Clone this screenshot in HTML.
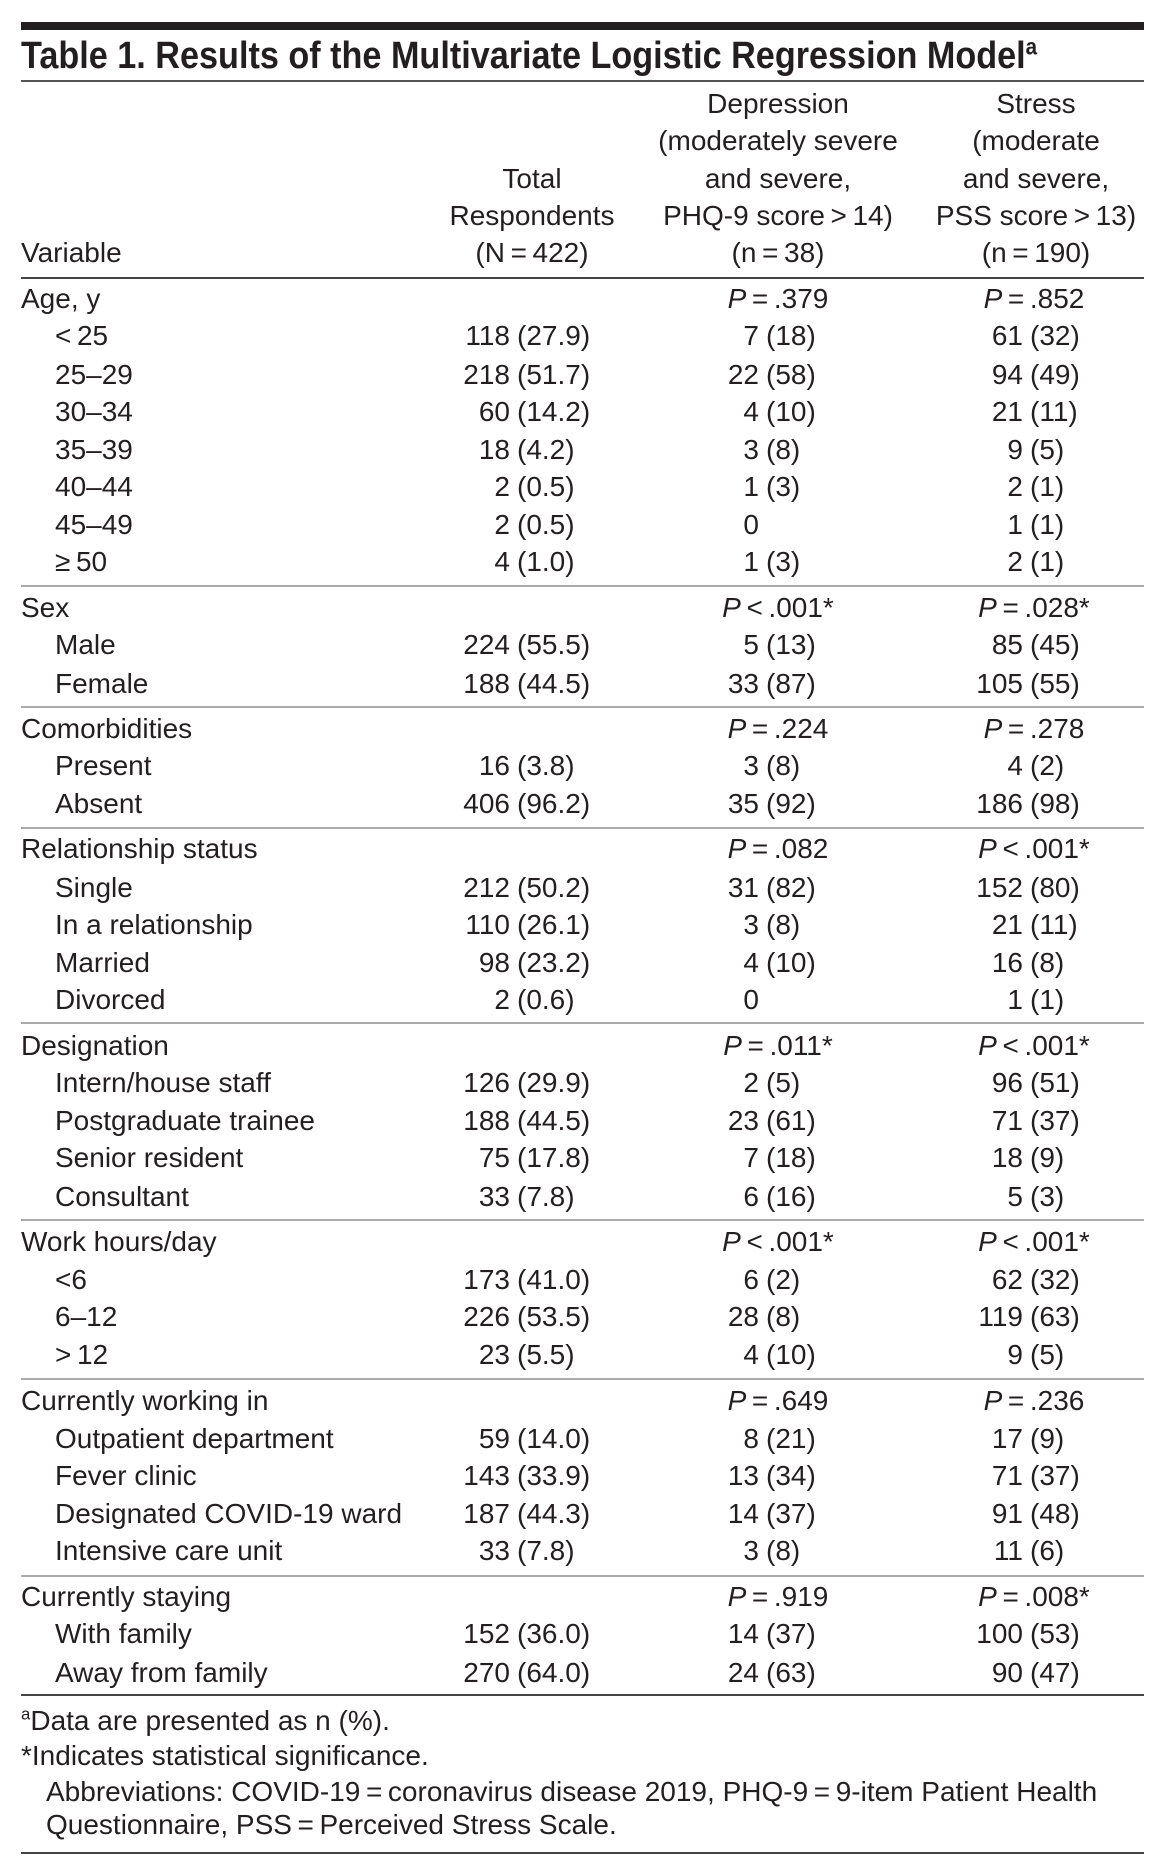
<!DOCTYPE html>
<html><head><meta charset="utf-8">
<style>
html,body{margin:0;padding:0;background:#fff;}
#page{position:relative;width:1163px;height:1867px;overflow:hidden;font-family:"Liberation Sans",sans-serif;color:#231f20;font-size:28px;}
.t{position:absolute;white-space:nowrap;line-height:36px;height:36px;}
.r{text-align:right;}
.c{transform:translateX(-50%);text-align:center;}
.ln{position:absolute;left:21px;width:1123px;}
i{font-style:italic;}
sup{font-size:60%;line-height:0;vertical-align:super;}
</style></head>
<body>
<div id="page">
  <div class="ln" style="top:22px;height:8px;background:#231f20;"></div>
  <div class="t" style="left:21px;top:36px;font-weight:bold;font-size:38px;line-height:40px;height:40px;transform:scaleX(0.9);transform-origin:left center;">Table 1. Results of the Multivariate Logistic Regression Model<sup>a</sup></div>
  <div class="ln" style="top:80px;height:2px;background:#555;"></div>

  <div class="t c" style="left:778px;top:86px;">Depression</div>
  <div class="t c" style="left:1036px;top:86px;">Stress</div>
  <div class="t c" style="left:778px;top:123px;">(moderately severe</div>
  <div class="t c" style="left:1036px;top:123px;">(moderate</div>
  <div class="t c" style="left:532px;top:161px;">Total</div>
  <div class="t c" style="left:778px;top:161px;">and severe,</div>
  <div class="t c" style="left:1036px;top:161px;">and severe,</div>
  <div class="t c" style="left:532px;top:198px;">Respondents</div>
  <div class="t c" style="left:778px;top:198px;">PHQ-9 score&#8201;&gt;&#8201;14)</div>
  <div class="t c" style="left:1036px;top:198px;">PSS score&#8201;&gt;&#8201;13)</div>
  <div class="t" style="left:21px;top:235px;">Variable</div>
  <div class="t c" style="left:532px;top:235px;">(N&#8201;=&#8201;422)</div>
  <div class="t c" style="left:778px;top:235px;">(n&#8201;=&#8201;38)</div>
  <div class="t c" style="left:1036px;top:235px;">(n&#8201;=&#8201;190)</div>
  <div class="ln" style="top:277px;height:2px;background:#444;"></div>

  <div id="body"></div>

  <div class="ln" style="top:1694px;height:2px;background:#444;"></div>
  <div class="t" style="left:21px;top:1703px;"><sup>a</sup>Data are presented as n (%).</div>
  <div class="t" style="left:21px;top:1738px;">*Indicates statistical significance.</div>
  <div class="t" style="left:46px;top:1774px;">Abbreviations: COVID-19&#8201;=&#8201;coronavirus disease 2019, PHQ-9&#8201;=&#8201;9-item Patient Health</div>
  <div class="t" style="left:46px;top:1807px;">Questionnaire, PSS&#8201;=&#8201;Perceived Stress Scale.</div>
  <div class="ln" style="top:1852px;height:2px;background:#444;"></div>
</div>
<script>
const labels = ["Age, y","<\u200925","25–29","30–34","35–39","40–44","45–49","≥\u200950",
 "Sex","Male","Female",
 "Comorbidities","Present","Absent",
 "Relationship status","Single","In a relationship","Married","Divorced",
 "Designation","Intern/house staff","Postgraduate trainee","Senior resident","Consultant",
 "Work hours/day","<6","6–12",">\u200912",
 "Currently working in","Outpatient department","Fever clinic","Designated COVID-19 ward","Intensive care unit",
 "Currently staying","With family","Away from family"];
const rowCenters = [299,336,375,412,450,487,525,562, 608,645,684, 729,766,804, 849,888,925,963,1000, 1046,1083,1121,1158,1197, 1242,1280,1317,1355, 1401,1439,1476,1514,1551, 1597,1634,1673];
const totalN = ["","118","218","60","18","2","2","4", "","224","188", "","16","406", "","212","110","98","2", "","126","188","75","33", "","173","226","23", "","59","143","187","33", "","152","270"];
const totalPct = ["","(27.9)","(51.7)","(14.2)","(4.2)","(0.5)","(0.5)","(1.0)", "","(55.5)","(44.5)", "","(3.8)","(96.2)", "","(50.2)","(26.1)","(23.2)","(0.6)", "","(29.9)","(44.5)","(17.8)","(7.8)", "","(41.0)","(53.5)","(5.5)", "","(14.0)","(33.9)","(44.3)","(7.8)", "","(36.0)","(64.0)"];
const depN = ["","7","22","4","3","1","0","1", "","5","33", "","3","35", "","31","3","4","0", "","2","23","7","6", "","6","28","4", "","8","13","14","3", "","14","24"];
const depPct = ["","(18)","(58)","(10)","(8)","(3)","","(3)", "","(13)","(87)", "","(8)","(92)", "","(82)","(8)","(10)","", "","(5)","(61)","(18)","(16)", "","(2)","(8)","(10)", "","(21)","(34)","(37)","(8)", "","(37)","(63)"];
const stressN = ["","61","94","21","9","2","1","2", "","85","105", "","4","186", "","152","21","16","1", "","96","71","18","5", "","62","119","9", "","17","71","91","11", "","100","90"];
const stressPct = ["","(32)","(49)","(11)","(5)","(1)","(1)","(1)", "","(45)","(55)", "","(2)","(98)", "","(80)","(11)","(8)","(1)", "","(51)","(37)","(9)","(3)", "","(32)","(63)","(5)", "","(9)","(37)","(48)","(6)", "","(53)","(47)"];
const depP = {0:"=\u2009.379",8:"<\u2009.001*",11:"=\u2009.224",14:"=\u2009.082",19:"=\u2009.011*",24:"<\u2009.001*",28:"=\u2009.649",33:"=\u2009.919"};
const stressP = {0:"=\u2009.852",8:"=\u2009.028*",11:"=\u2009.278",14:"<\u2009.001*",19:"<\u2009.001*",24:"<\u2009.001*",28:"=\u2009.236",33:"=\u2009.008*"};
const sectionRules = [585,706,827,1022,1219,1378,1575];

const body = document.getElementById('body');
function txt(s, cls, style){
  const d = document.createElement('div');
  d.className = 't ' + cls;
  d.setAttribute('style', style);
  d.textContent = s;
  body.appendChild(d);
  return d;
}
const W = 1163;
labels.forEach((lab, i) => {
  const top = rowCenters[i] - 18;
  const isHead = (i in depP);
  const l = txt(lab, '', 'left:' + (isHead ? 21 : 55) + 'px;top:' + top + 'px;');
  
  
  if (isHead) {
    const dp = document.createElement('div');
    dp.className = 't c';
    dp.setAttribute('style', 'left:778px;top:' + top + 'px;');
    dp.innerHTML = '<i>P</i>\u2009' + depP[i];
    
    
    body.appendChild(dp);
    const sp = document.createElement('div');
    sp.className = 't c';
    sp.setAttribute('style', 'left:1034px;top:' + top + 'px;');
    sp.innerHTML = '<i>P</i>\u2009' + stressP[i];
    
    
    body.appendChild(sp);
    return;
  }
  const cols = [[totalN[i], totalPct[i], 510, 517, 'total'], [depN[i], depPct[i], 759, 766, 'depression'], [stressN[i], stressPct[i], 1023, 1030, 'stress']];
  cols.forEach(c => {
    const n = txt(c[0], 'r', 'right:' + (W - c[2]) + 'px;top:' + top + 'px;');
    
    
    if (c[1]) {
      const p = txt(c[1], '', 'left:' + c[3] + 'px;top:' + top + 'px;');
      
      
    }
  });
});
sectionRules.forEach(y => {
  const d = document.createElement('div');
  d.className = 'ln';
  d.setAttribute('style', 'top:' + y + 'px;height:2px;background:#aaa;');
  
  
  body.appendChild(d);
});
</script>
</body></html>
